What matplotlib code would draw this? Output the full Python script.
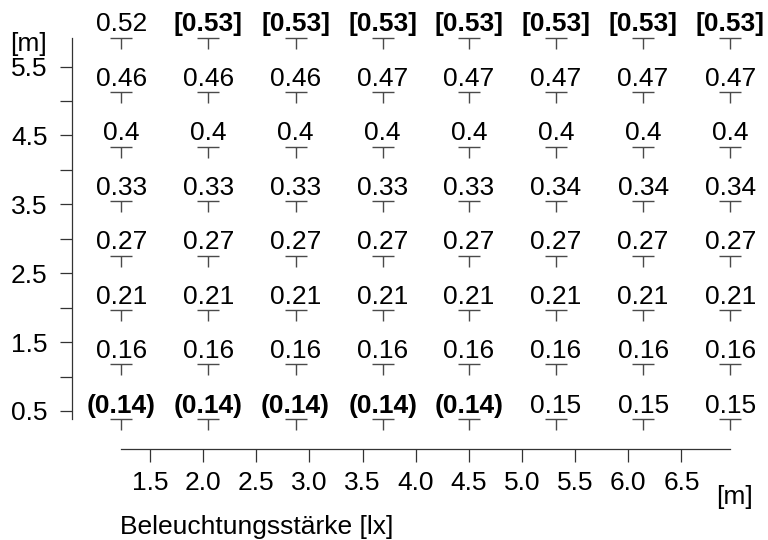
import matplotlib
matplotlib.use("Agg")
import matplotlib.pyplot as plt
from matplotlib.path import Path
import numpy as np

plt.rcParams['font.family'] = ['Liberation Sans', 'DejaVu Sans']

# grid positions [m]
x_pos = [1.23, 2.05, 2.87, 3.69, 4.50, 5.32, 6.14, 6.96]
y_pos = [0.384, 1.175, 1.966, 2.757, 3.548, 4.339, 5.130, 5.921]

# illuminance values, rows from bottom to top
row0 = [0.14, 0.14, 0.14, 0.14, 0.14, 0.15, 0.15, 0.15]
row1 = [0.16] * 8
row2 = [0.21] * 8
row3 = [0.27] * 8
row4 = [0.33, 0.33, 0.33, 0.33, 0.33, 0.34, 0.34, 0.34]
row5 = [0.4] * 8
row6 = [0.46, 0.46, 0.46, 0.47, 0.47, 0.47, 0.47, 0.47]
row7 = [0.52, 0.53, 0.53, 0.53, 0.53, 0.53, 0.53, 0.53]
values = [row0, row1, row2, row3, row4, row5, row6, row7]

x_ticks = [1.5, 2.0, 2.5, 3.0, 3.5, 4.0, 4.5, 5.0, 5.5, 6.0, 6.5]
y_ticks = [0.5, 1.0, 1.5, 2.0, 2.5, 3.0, 3.5, 4.0, 4.5, 5.0, 5.5]
y_labels = ['0.5', '', '1.5', '', '2.5', '', '3.5', '', '4.5', '', '5.5']

fig = plt.figure(figsize=(7.68, 5.4), dpi=100)
ax = fig.add_axes([0.0934, 0.168, 0.896, 0.823])
ax.set_xlim(0.7634, 7.2385)
ax.set_ylim(-0.0562, 6.396)

marker = Path([(-1, 0), (1, 0), (0, 0), (0, -1)],
              [Path.MOVETO, Path.LINETO, Path.MOVETO, Path.LINETO])

vmin = min(min(r) for r in values)
vmax = max(max(r) for r in values)

fs = 19
for j, row in enumerate(values):
    for i, v in enumerate(row):
        x, y = x_pos[i], y_pos[j]
        ax.plot([x], [y], marker=marker, markersize=16.5, markeredgewidth=1.0,
                color='#4a4a4a', linestyle='none', clip_on=False)
        txt = f"{v:g}"
        weight = 'normal'
        if v == vmin:
            txt = f"({txt})"
            weight = 'bold'
        elif v == vmax:
            txt = f"[{txt}]"
            weight = 'bold'
        ax.annotate(txt, (x, y), xytext=(0, 4.4), textcoords='offset points',
                    ha='center', va='baseline', fontsize=fs, fontweight=weight,
                    color='black', annotation_clip=False)

for s in ['top', 'right']:
    ax.spines[s].set_visible(False)
ax.spines['left'].set_bounds(min(y_pos), max(y_pos))
ax.spines['bottom'].set_bounds(min(x_pos), max(x_pos))
for s in ['left', 'bottom']:
    ax.spines[s].set_linewidth(0.9)
    ax.spines[s].set_color('#333333')

ax.set_xticks(x_ticks)
ax.set_xticklabels([f"{t:.1f}" for t in x_ticks])
ax.set_yticks(y_ticks)
ax.set_yticklabels(y_labels)
ax.tick_params(axis='both', length=9, width=0.9, color='#333333',
               labelsize=fs, labelcolor='black')
ax.tick_params(axis='y', pad=8.5)
ax.tick_params(axis='x', pad=6.5)

ax.text(0.531, 5.83, '[m]', ha='right', va='center', fontsize=fs, clip_on=False)
ax.text(7.0, -0.742, '[m]', ha='center', va='center', fontsize=fs, clip_on=False)
ax.text(x_pos[0] - 0.015, -1.29, 'Beleuchtungsstärke [lx]', ha='left', va='baseline',
        fontsize=fs, clip_on=False)

fig.savefig('out.png', dpi=100)
